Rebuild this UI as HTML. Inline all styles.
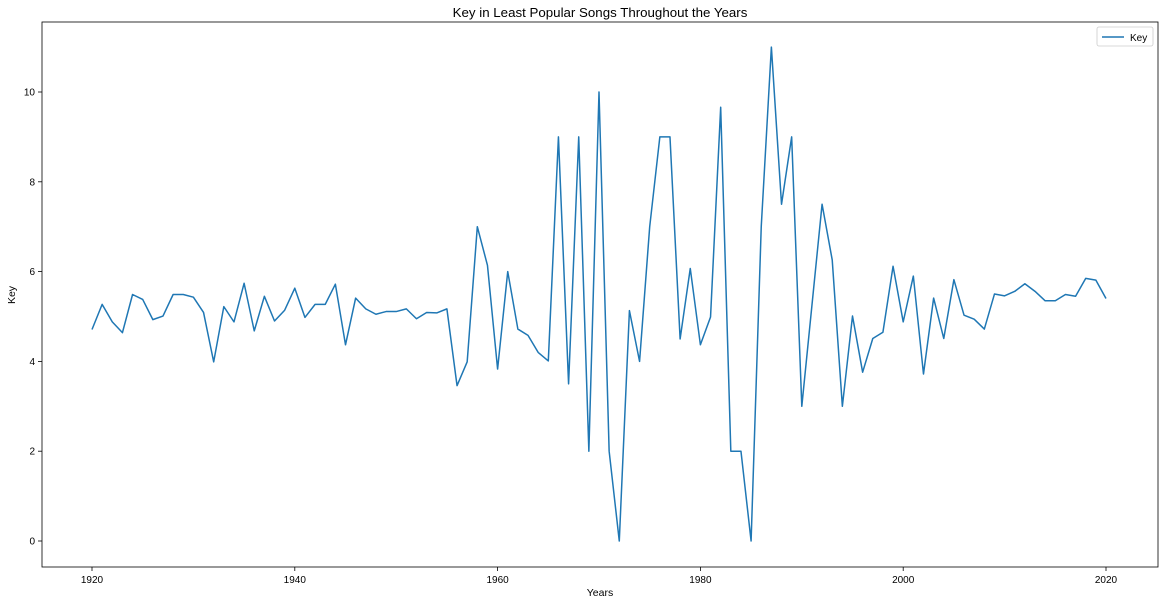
<!DOCTYPE html>
<html><head><meta charset="utf-8"><style>
html,body{margin:0;padding:0;background:#fff;}
svg{display:block;font-family:"Liberation Sans","DejaVu Sans",sans-serif;}
</style></head><body>
<svg id="chart" width="1164" height="604">
<text x="600" y="17" font-size="13.3" text-anchor="middle">Key in Least Popular Songs Throughout the Years</text>
<rect x="42" y="22" width="1116" height="545" fill="none" stroke="#000" stroke-width="0.8"/>
<g id="xticks"></g>
<g id="yticks"></g>
<text x="600" y="596" font-size="10.5" text-anchor="middle">Years</text>
<text x="15" y="295" font-size="10.5" text-anchor="middle" transform="rotate(-90 15 295)">Key</text>
<path id="line" fill="none" stroke="#1f77b4" stroke-width="1.5" stroke-linejoin="round"/>
<g>
<rect x="1097" y="27" width="56" height="19" rx="2" fill="#fff" stroke="#ccc" stroke-width="0.8"/>
<line x1="1102" y1="37" x2="1124" y2="37" stroke="#1f77b4" stroke-width="1.5"/>
<text x="1130" y="41" font-size="10">Key</text>
</g>
</svg>
<script>
const startYear = 1920;
const keyValues = [4.71,5.27,4.88,4.64,5.49,5.38,4.93,5.01,5.49,5.49,5.43,5.09,3.99,5.22,4.88,5.74,4.68,5.45,4.90,5.14,
5.63,4.98,5.27,5.27,5.72,4.37,5.41,5.17,5.05,5.11,5.11,5.17,4.95,5.09,5.08,5.17,3.46,3.99,7.0,6.14,
3.83,6.0,4.72,4.58,4.20,4.01,9.0,3.5,9.0,2.0,10.0,2.0,0,5.13,4.0,7.0,9.0,9.0,4.5,6.07,
4.37,4.99,9.66,2.0,2.0,0,7.0,11.0,7.5,9.0,3.0,5.25,7.5,6.26,3.0,5.01,3.76,4.51,4.65,6.12,
4.88,5.90,3.72,5.41,4.51,5.82,5.03,4.94,4.72,5.50,5.46,5.56,5.73,5.56,5.35,5.35,5.49,5.45,5.85,5.81,5.40];
const xTickLabels = [1920,1940,1960,1980,2000,2020];
const yTickLabels = [0,2,4,6,8,10];

const NS = "http://www.w3.org/2000/svg";
function xScale(yr){ return 92 + (yr-1920)*(1106-92)/100; }
function yScale(v){ return 541 - v*44.9; }

const xg = document.getElementById('xticks');
xTickLabels.forEach(t=>{
  const x = xScale(t);
  const l = document.createElementNS(NS,'line');
  l.setAttribute('x1',x);l.setAttribute('x2',x);l.setAttribute('y1',567);l.setAttribute('y2',571);
  l.setAttribute('stroke','#000');l.setAttribute('stroke-width','0.8');
  
  
  xg.appendChild(l);
  const tx = document.createElementNS(NS,'text');
  tx.setAttribute('x',x);tx.setAttribute('y',583);tx.setAttribute('font-size','10');tx.setAttribute('text-anchor','middle');
  tx.textContent = t;
  
  
  xg.appendChild(tx);
});
const yg = document.getElementById('yticks');
yTickLabels.forEach(t=>{
  const y = yScale(t);
  const l = document.createElementNS(NS,'line');
  l.setAttribute('x1',38);l.setAttribute('x2',42);l.setAttribute('y1',y);l.setAttribute('y2',y);
  l.setAttribute('stroke','#000');l.setAttribute('stroke-width','0.8');
  
  
  yg.appendChild(l);
  const tx = document.createElementNS(NS,'text');
  tx.setAttribute('x',35);tx.setAttribute('y',y+3.5);tx.setAttribute('font-size','10');tx.setAttribute('text-anchor','end');
  tx.textContent = t;
  
  
  yg.appendChild(tx);
});
let d = '';
keyValues.forEach((v,i)=>{ d += (i?'L':'M') + xScale(startYear+i).toFixed(2) + ',' + yScale(v).toFixed(2); });
document.getElementById('line').setAttribute('d', d);
</script>
</body></html>
